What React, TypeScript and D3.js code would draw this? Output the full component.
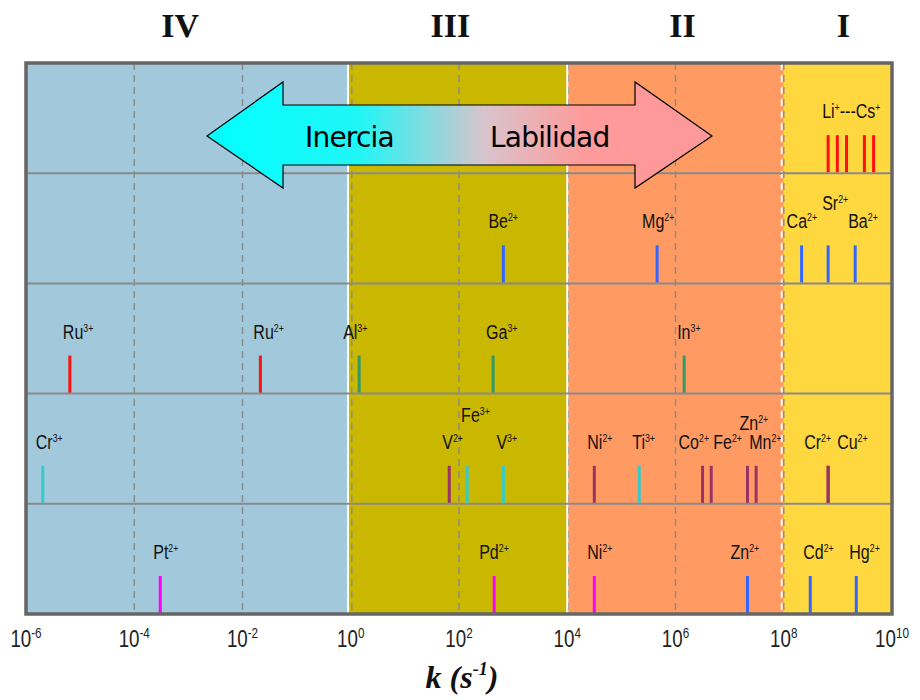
import React from "react";
import * as d3 from "d3";

// regiones (log10 k)
const regionNames = ["IV", "III", "II", "I"];
const regionBounds = [-6, -0.05, 4, 8, 10];
const regionLabelAt = [-3.15, 1.84, 6.13, 9.1];
const regionFill = ["#a1c9db", "#c9b700", "#ff9b62", "#ffd73f"];

const tickExps = [-6, -4, -2, 0, 2, 4, 6, 8, 10];
const gridExps = [-4, -2, 0, 2, 4, 6, 8];

// one array per row of the chart: [ion, charge, log10 k, kind]
const alkali = [
  ["Li", "+", 8.82, "red"],
  ["Na", "+", 8.99, "red"],
  ["K", "+", 9.16, "red"],
  ["Rb", "+", 9.49, "red"],
  ["Cs", "+", 9.66, "red"],
];
const alkalineEarth = [
  ["Be", "2+", 2.82, "blue"],
  ["Mg", "2+", 5.66, "blue"],
  ["Ca", "2+", 8.33, "blue"],
  ["Sr", "2+", 8.82, "blue"],
  ["Ba", "2+", 9.32, "blue"],
];
const trivalent = [
  ["Ru", "3+", -5.19, "red"],
  ["Ru", "2+", -1.67, "red"],
  ["Al", "3+", 0.155, "green"],
  ["Ga", "3+", 2.63, "green"],
  ["In", "3+", 6.16, "green"],
];
const transition = [
  ["Cr", "3+", -5.69, "turq"],
  ["V", "2+", 1.82, "purple"],
  ["Fe", "3+", 2.15, "turq"],
  ["V", "3+", 2.82, "turq"],
  ["Ni", "2+", 4.5, "purple"],
  ["Ti", "3+", 5.33, "turq"],
  ["Co", "2+", 6.5, "purple"],
  ["Fe", "2+", 6.66, "purple"],
  ["Zn", "2+", 7.33, "purple"],
  ["Mn", "2+", 7.49, "purple"],
  ["Cr", "2+", 8.82, "purple"],
  ["Cu", "2+", 8.82, "purple"],
];
const heavy = [
  ["Pt", "2+", -3.52, "magenta"],
  ["Pd", "2+", 2.65, "magenta"],
  ["Ni", "2+", 4.5, "magenta"],
  ["Zn", "2+", 7.33, "blue"],
  ["Cd", "2+", 8.49, "blue"],
  ["Hg", "2+", 9.34, "blue"],
];
const rows = [alkali, alkalineEarth, trivalent, transition, heavy];

const kindColor = {
  red: "#ff1010",
  blue: "#3366ff",
  green: "#339966",
  turq: "#33cccc",
  purple: "#993366",
  magenta: "#ff00ff",
};

// label nudges [dx, dy] where the label isn't in the default spot
const labelNudge = {
  "1Be2+": [-15, 0],
  "1Mg2+": [-15, 0],
  "1Ca2+": [-15, 0],
  "1Sr2+": [-6, -18],
  "2Al3+": [-16, 0],
  "3Fe3+": [-6, -27],
  "3Co2+": [-24, 0],
  "3Fe2+": [2, 0],
  "3Zn2+": [-8, -19],
  "3Cr2+": [-24, 0],
  "3Cu2+": [9, 0],
  "4Pd2+": [-15, 0],
  "4Zn2+": [-17, 0],
};

export default function App() {
  const W = 920, H = 700;
  const plot = { left: 26, right: 892, top: 63, bottom: 614 };

  const x = d3.scaleLog().domain([1e-6, 1e10]).range([plot.left, plot.right]);
  const lx = (e: number) => x(Math.pow(10, e));
  const y = d3.scaleBand().domain(d3.range(rows.length).map(String)).range([plot.top, plot.bottom]);
  const bw = y.bandwidth();

  const arrowY = 136;
  const arrowPts = [
    [207, arrowY], [283, arrowY - 54], [283, arrowY - 31], [635, arrowY - 31], [635, arrowY - 54],
    [712, arrowY], [635, arrowY + 52], [635, arrowY + 29], [283, arrowY + 29], [283, arrowY + 52],
  ];

  const labelFont = "Liberation Sans, Arial, sans-serif";

  return (
    <svg width={W} height={H} style={{ position: "absolute", left: 0, top: 0, background: "#fff" }}>
      <defs>
        <linearGradient id="arrowGrad" x1="207" x2="712" y1="0" y2="0" gradientUnits="userSpaceOnUse">
          <stop offset="0" stopColor="#00ffff" />
          <stop offset="0.3" stopColor="#20f6f6" />
          <stop offset="0.55" stopColor="#d8c4cc" />
          <stop offset="0.75" stopColor="#ff9a9a" />
          <stop offset="1" stopColor="#ff9999" />
        </linearGradient>
      </defs>

      {/* region backgrounds */}
      {regionNames.map((r, i) => (
        <rect key={r} x={lx(regionBounds[i])} y={plot.top}
          width={lx(regionBounds[i + 1]) - lx(regionBounds[i])} height={plot.bottom - plot.top}
          fill={regionFill[i]} />
      ))}

      {/* dashed gridlines */}
      {gridExps.map(e => (
        <line key={e} x1={lx(e) + (e === 0 || e === 4 ? 1 : 0)} x2={lx(e) + (e === 0 || e === 4 ? 1 : 0)}
          y1={plot.top} y2={plot.bottom}
          stroke="#8c8c8c" strokeWidth={1.5} strokeDasharray="7,5" />
      ))}

      {/* white region separators */}
      {regionBounds.slice(1, -1).map((b, i) => (
        <line key={b} x1={lx(b) - (i === 2 ? 2 : 0)} x2={lx(b) - (i === 2 ? 2 : 0)} y1={plot.top} y2={plot.bottom}
          stroke="#fff" strokeWidth={2} strokeDasharray={i === 2 ? "7,5" : null} />
      ))}

      {/* row separators */}
      {d3.range(1, rows.length).map(i => (
        <line key={i} x1={plot.left} x2={plot.right} y1={y(String(i))} y2={y(String(i))}
          stroke="#8a8a8a" strokeWidth={2} />
      ))}

      {/* ion bars + labels */}
      {rows.map((row, ri) => {
        const yb = (y(String(ri)) as number) + bw;
        return (
          <g key={ri}>
            {row.map(([ion, ch, lk, kind], j) => (
              <line key={j} x1={lx(lk as number)} x2={lx(lk as number)} y1={yb - 38} y2={yb - 1}
                stroke={kindColor[kind as string]} strokeWidth={3} />
            ))}
            {ri > 0 && row.map(([ion, ch, lk], j) => {
              const nd = labelNudge[`${ri}${ion}${ch}`] || [-7, 0];
              return (
                <text key={"t" + j} transform={`translate(${lx(lk as number) + nd[0]},${yb - 55 + nd[1]}) scale(0.8,1)`}
                  fontFamily={labelFont} fontSize={20} fill="#111">
                  {ion}<tspan fontSize={11} dy={-7}>{ch}</tspan>
                </text>
              );
            })}
          </g>
        );
      })}
      {/* Li ... Cs grouped label */}
      <text transform={`translate(${lx(alkali[0][2] as number) - 6},${(y("0") as number) + bw - 55}) scale(0.8,1)`}
        fontFamily={labelFont} fontSize={20} fill="#111">
        Li<tspan fontSize={11} dy={-7}>+</tspan><tspan dy={7}>---Cs</tspan><tspan fontSize={11} dy={-7}>+</tspan>
      </text>

      {/* arrow */}
      <polygon points={arrowPts.map(p => p.join(",")).join(" ")} fill="url(#arrowGrad)" stroke="#000" strokeWidth={1.2} />
      <text x={305} y={147} fontFamily="DejaVu Sans, Verdana, sans-serif" fontSize={28} letterSpacing={-0.8} fill="#000">Inercia</text>
      <text x={490} y={147} fontFamily="DejaVu Sans, Verdana, sans-serif" fontSize={28} letterSpacing={-0.8} fill="#000">Labilidad</text>

      {/* frame */}
      <rect x={plot.left} y={plot.top} width={plot.right - plot.left} height={plot.bottom - plot.top}
        fill="none" stroke="#666" strokeWidth={3.5} />

      {/* roman numerals */}
      {regionNames.map((r, i) => (
        <text key={r} x={lx(regionLabelAt[i])} y={37} textAnchor="middle"
          fontFamily="Liberation Serif, Times New Roman, serif" fontWeight="bold" fontSize={34} fill="#111">{r}</text>
      ))}

      {/* x axis tick labels */}
      {tickExps.map(e => (
        <text key={e} transform={`translate(${lx(e)},647) scale(0.78,1)`} textAnchor="middle"
          fontFamily={labelFont} fontSize={24} fill="#222">
          10<tspan fontSize={15} dy={-9}>{e}</tspan>
        </text>
      ))}

      {/* axis title */}
      <text x={462} y={688} textAnchor="middle" fontFamily="Liberation Serif, Times New Roman, serif"
        fontStyle="italic" fontWeight="bold" fontSize={32} fill="#111">
        k (s<tspan fontSize={18} dy={-13}>-1</tspan><tspan dy={13}>)</tspan>
      </text>
    </svg>
  );
}
